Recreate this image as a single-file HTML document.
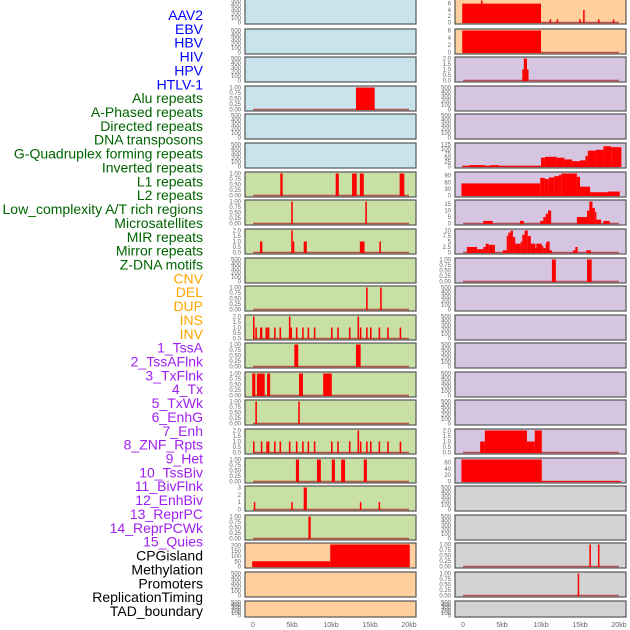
<!DOCTYPE html>
<html><head><meta charset="utf-8"><style>
body{margin:0;background:#fff;width:630px;height:630px;overflow:hidden}
svg{display:block}
</style></head><body>
<svg id="chart" width="630" height="630" xmlns="http://www.w3.org/2000/svg" font-family="Liberation Sans, sans-serif"></svg>
<script>
const labels=["AAV2","EBV","HBV","HIV","HPV","HTLV-1","Alu repeats","A-Phased repeats","Directed repeats","DNA transposons","G-Quadruplex forming repeats","Inverted repeats","L1 repeats","L2 repeats","Low_complexity A/T rich regions","Microsatellites","MIR repeats","Mirror repeats","Z-DNA motifs","CNV","DEL","DUP","INS","INV","1_TssA","2_TssAFlnk","3_TxFlnk","4_Tx","5_TxWk","6_EnhG","7_Enh","8_ZNF_Rpts","9_Het","10_TssBiv","11_BivFlnk","12_EnhBiv","13_ReprPC","14_ReprPCWk","15_Quies","CPGisland","Methylation","Promoters","ReplicationTiming","TAD_boundary"];
const labelColors=Array(6).fill("#0000ff").concat(Array(13).fill("#006400"),Array(5).fill("#ffa500"),Array(15).fill("#a020f0"),Array(5).fill("#000000"));
const xTicks=[0,5,10,15,20];
const xTickLabels=["0","5kb","10kb","15kb","20kb"];
// left column panels (22) then right column panels (22)
const E=[0,100,200,300,400,500];
const P1=[0,0.25,0.5,0.75,1];
const P2=[0,0.5,1,1.5,2];
const panelTicks=[E,E,E,P1,E,E,P1,P1,P2,E,P1,P2,P1,P1,P1,P2,P1,[0,1,2,3],P1,[0,50,100,150,200],E,E,
 [0,2,4,6],[0,2,4,6],P2,E,E,[0,25,50,75,100,125],[0,30,60,90],[0,5,10,15],[0,2.5,5,7.5,10],P1,E,E,E,E,E,P2,[0,20,40,60],E,E,P1,P1,E];
const panelMax=[500,500,500,1,500,500,1,1,2,500,1,2,1,1,1,2,1,3,1,210,500,500,
 7,6,2,500,500,125,100,17,10,1,500,500,500,500,500,2,70,500,500,1,1,500];
const panelBg=["#c8e3eb","#c8e3eb","#c8e3eb","#c8e3eb","#c8e3eb","#c8e3eb"].concat(Array(13).fill("#c8e0a4"),Array(5).fill("#ffd09e"),Array(15).fill("#d6c5e1"),Array(5).fill("#d3d3d3"));
const panelSegs=[
 [],[],[],[[13.2,15.6,1]],[],[],
 [[3.5,3.8,1],[10.6,11.0,1],[12.7,13.3,1],[13.7,14.2,1],[18.8,19.4,1]],
 [[4.9,5.1,1],[14.4,14.6,1]],
 [[0.9,1.2,1],[4.9,5.1,2],[5.1,5.3,1],[6.5,6.9,1],[13.7,14.3,1],[16.2,16.4,1]],
 [],
 [[14.5,14.7,1],[16.3,16.5,1]],
 [[0.0,0.2,2],[0.3,0.5,1],[0.9,1.2,1],[1.6,1.9,1],[1.9,2.1,1],[2.7,2.9,1],[3.4,3.6,1],[4.6,4.8,2],[4.8,5.0,1],[5.5,5.7,1],[6.3,6.5,1],[7.0,7.2,1],[7.8,8.0,1],[10.0,10.2,1],[10.8,11.0,1],[12.3,12.5,1],[13.4,13.6,2],[13.7,13.9,1],[14.5,14.7,1],[15.0,15.2,1],[16.1,16.3,1],[17.2,17.4,1],[18.8,19.0,1]],
 [[5.3,5.8,1],[13.2,13.8,1]],
 [[-0.1,0.3,1],[0.5,1.5,1],[1.8,2.2,1],[5.9,6.4,1],[9.0,10.1,1]],
 [[0.3,0.5,1],[5.8,6.0,1]],
 [[0.0,0.2,1],[1.0,1.2,1],[1.7,1.9,1],[1.9,2.1,1],[2.7,2.9,1],[3.4,3.6,1],[4.6,4.8,1],[5.5,5.7,1],[6.3,6.5,1],[7.0,7.2,1],[7.8,8.0,1],[10.0,10.2,1],[10.8,11.0,1],[12.3,12.5,1],[13.4,13.6,2],[13.7,13.9,1],[14.5,14.7,1],[15.0,15.2,1],[16.1,16.3,1],[17.2,17.4,1],[18.8,19.0,1]],
 [[5.5,5.9,1],[8.2,8.7,1],[10.1,10.5,1],[11.3,11.8,1],[14.2,14.6,1]],
 [[0.1,0.3,1],[4.9,5.1,1],[6.5,6.9,3],[13.7,13.9,1],[16.1,16.3,1]],
 [[7.1,7.4,1]],
 [[-0.1,9.9,50],[9.9,20.1,210]],
 [],[],
 // right
 [[-0.1,10.0,6],[2.3,2.5,7],[11.1,11.3,1],[12.0,12.2,1],[14.9,15.1,1],[15.4,15.6,4],[17.3,17.5,1],[19.2,19.4,1]],
 [[-0.1,10.0,6]],
 [[7.6,8.4,1],[7.8,8.2,2]],
 [],[],
 [[-0.1,0.8,4],[0.8,2.8,8],[2.8,3.5,4],[3.5,4.6,8],[4.6,10,4],[10,10.5,50],[10.5,12,55],[12,13,50],[13,14,40],[14,15,30],[15,15.7,35],[15.7,16,60],[16,17,90],[17,18,95],[18,19,115],[19,20.3,110]],
 [[-0.2,9.9,55],[9.9,10.5,80],[10.5,11,75],[11,11.7,82],[11.7,12.3,88],[12.3,12.6,93],[12.6,14.6,100],[14.6,15,85],[15,16.3,40],[16.3,18.6,15],[18.6,20.1,18]],
 [[2.6,3.8,2],[7.3,7.8,2],[9.9,10.3,2],[10.3,10.6,5],[10.6,10.9,7.5],[10.9,11.3,10],[14.6,15.9,5],[15.9,16.2,10],[16.2,16.6,17],[16.6,16.9,12],[16.9,17.1,9],[17.1,17.7,3],[18.0,18.8,2]],
 [[0.5,1.8,2.5],[1.8,2.6,1.5],[2.6,2.9,2.5],[2.9,3.3,4],[3.3,4.1,3.5],[5.1,5.6,1],[5.6,5.8,7.5],[5.8,6.1,9],[6.1,6.4,10],[6.4,6.7,7],[6.7,7.4,4],[7.4,7.6,5],[7.6,7.9,8],[7.9,8.3,10],[8.3,8.7,7.5],[8.7,9.3,4],[9.3,9.4,2],[9.4,10.1,4],[10.1,10.3,3],[10.3,10.6,2],[10.6,10.7,4],[10.7,11.1,5],[11.1,11.4,1],[14.1,14.4,1],[14.4,14.7,2.5],[15.8,16.4,1]],
 [[11.4,11.9,1],[15.9,16.5,1]],
 [],[],[],[],[],
 [[2.2,2.8,1],[2.8,8.2,2],[8.2,9.2,1],[9.2,10.1,2]],
 [[-0.2,10.1,70],[10.1,20.3,1.5]],
 [],[],
 [[16.2,16.4,1],[17.3,17.5,1]],
 [[14.7,14.9,1]],
 []
];
const svg=document.getElementById('chart');
const NS='http://www.w3.org/2000/svg';
function mk(tag,attrs,parent){const e=document.createElementNS(NS,tag);for(const k in attrs)e.setAttribute(k,attrs[k]);(parent||svg).appendChild(e);return e;}
const rowTops=[-1,29,57,86,114,143,172,200,229,258,286,315,343,372,400,429,458,486,515,543,572,601];
const colX0=[245,455],PW=171;
function xScale(col,kb){return colX0[col]+8+kb*7.8;}
// labels
labels.forEach((t,i)=>{
  const el=mk('text',{x:203,y:15+i*13.86+5,'text-anchor':'end','font-size':'14',fill:labelColors[i]});
  el.textContent=t;
  
  
});
for(let p=0;p<44;p++){
  const col=p<22?0:1,row=p%22;
  const T=rowTops[row],H=row===21?16:25;
  const x0=colX0[col];
  const g=mk('g',{});
  
  
  mk('rect',{x:x0,y:T,width:PW,height:H,fill:panelBg[p],stroke:'#555','stroke-width':1.2},g);
  const dmax=panelMax[p];
  const yS=v=>T+H-1.5-v/dmax*(H-3);
  panelTicks[p].forEach(v=>{
    const tl=mk('text',{x:x0-4,y:yS(v)+2,'text-anchor':'end','font-size':'6',fill:'#666'},g);
    tl.textContent=(panelTicks[p][panelTicks[p].length-1]===1)?v.toFixed(2):(panelTicks[p][panelTicks[p].length-1]===2?v.toFixed(1):String(v));
    
    
  });
  const segs=panelSegs[p];
  if(segs.length){
    const bl=mk('line',{x1:xScale(col,0),x2:xScale(col,20),y1:yS(0),y2:yS(0),stroke:'#b03030','stroke-width':1.5,'stroke-opacity':0.8},g);
    
    
    segs.forEach(s=>{
      const xa=xScale(col,s[0]),xb=xScale(col,s[1]);
      const top=Math.max(yS(s[2]),T);
      const r=mk('rect',{x:xa,y:top,width:Math.max(xb-xa,1.5),height:yS(0)-top+0.5,fill:'#ff0000'},g);
      
      
    });
  }
}
[0,1].forEach(col=>{
  xTicks.forEach((v,i)=>{
    const t=mk('text',{x:xScale(col,v),y:627,'text-anchor':'middle','font-size':'7',fill:'#666'});
    t.textContent=xTickLabels[i];
    
    
  });
});
</script>
</body></html>
